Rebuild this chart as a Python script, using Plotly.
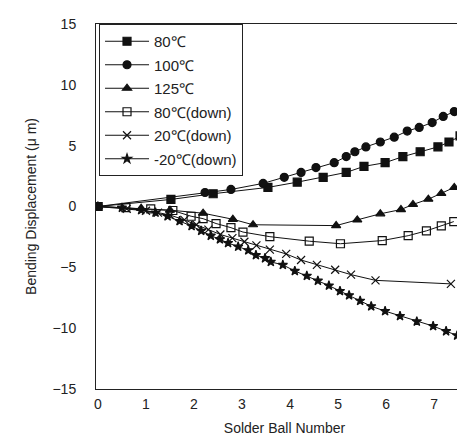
import plotly.graph_objects as go

# ---- data ----
names = ["80℃", "100℃", "125℃", "80℃(down)", "20℃(down)", "-20℃(down)"]

x_80 = [0, 1.52, 2.4, 3.54, 4.15, 4.69, 5.17, 5.54, 5.98, 6.35, 6.71, 7.08, 7.31, 7.54, 7.75]
y_80 = [0, 0.58, 1.05, 1.57, 2.0, 2.4, 2.8, 3.3, 3.6, 4.1, 4.5, 4.9, 5.3, 5.8, 6.2]

x_100 = [0, 2.23, 2.77, 3.44, 3.88, 4.23, 4.54, 4.92, 5.17, 5.35, 5.58, 5.88, 6.17, 6.44, 6.69, 6.96, 7.19, 7.42]
y_100 = [0, 1.15, 1.4, 1.9, 2.4, 2.8, 3.2, 3.6, 4.1, 4.5, 4.9, 5.3, 5.7, 6.2, 6.5, 6.9, 7.4, 7.8]

x_125 = [0, 0.9, 1.5, 2.19, 2.81, 3.23, 4.96, 5.4, 5.88, 6.31, 6.56, 6.88, 7.15, 7.42]
y_125 = [0, -0.15, -0.3, -0.55, -1.05, -1.5, -1.57, -1.1, -0.6, -0.25, 0.17, 0.6, 1.07, 1.57]

x_80d = [0, 0.58, 1.1, 1.56, 1.94, 2.19, 2.46, 2.77, 3.02, 3.58, 4.4, 5.05, 5.92, 6.46, 6.84, 7.15, 7.41]
y_80d = [0, -0.1, -0.2, -0.33, -0.8, -1.0, -1.4, -1.74, -2.1, -2.48, -2.85, -3.06, -2.8, -2.4, -2.0, -1.6, -1.24]

x_20d = [0, 0.6, 1.0, 1.25, 1.5, 1.8, 2.05, 2.3, 2.55, 2.8, 3.05, 3.3, 3.58, 3.92, 4.23, 4.56, 4.94, 5.27, 5.78, 7.35]
y_20d = [0, -0.2, -0.35, -0.5, -0.7, -1.1, -1.5, -1.9, -2.3, -2.6, -2.9, -3.2, -3.55, -3.9, -4.4, -4.8, -5.2, -5.6, -6.07, -6.36]

x_m20d = [0, 0.5, 0.9, 1.2, 1.45, 1.7, 1.95, 2.15, 2.35, 2.54, 2.71, 2.92, 3.13, 3.29, 3.48, 3.6, 3.85, 4.1, 4.35,
          4.58, 4.81, 5.04, 5.23, 5.46, 5.69, 5.98, 6.29, 6.64, 6.98, 7.25, 7.48]
y_m20d = [0, -0.1, -0.3, -0.5, -0.8, -1.2, -1.6, -2.0, -2.4, -2.7, -3.0, -3.3, -3.6, -4.0, -4.25, -4.55, -4.8, -5.3, -5.7,
          -6.1, -6.5, -6.95, -7.3, -7.75, -8.2, -8.6, -9.0, -9.45, -9.83, -10.25, -10.6]

x_ticks = [0, 1, 2, 3, 4, 5, 6, 7]
y_ticks = [-15, -10, -5, 0, 5, 10, 15]

series = [
    (x_80, y_80, "square", 8),
    (x_100, y_100, "circle", 8),
    (x_125, y_125, "triangle-up", 8),
    (x_80d, y_80d, "square-open", 8),
    (x_20d, y_20d, "x-thin-open", 8),
    (x_m20d, y_m20d, "star", 7),
]

fig = go.Figure()
for i, (name, (xs, ys, sym, sz)) in enumerate(zip(names, series)):
    fig.add_trace(go.Scatter(
        x=xs, y=ys, mode="lines+markers", name=name, legendgroup=str(i),
        line=dict(color="#111", width=1),
        marker=dict(symbol=sym, size=sz, color="#111",
                    line=dict(color="#111", width=1.2)),
    ))

font_family = "Liberation Sans, Arial, sans-serif"
fig.update_layout(
    width=465, height=443,
    margin=dict(l=88, r=0, t=16, b=62),
    paper_bgcolor="white", plot_bgcolor="white",
    font=dict(family=font_family, size=14, color="#222"),
    showlegend=True,
    legend=dict(
        x=0.008, y=1.0, xanchor="left", yanchor="top",
        bordercolor="#222", borderwidth=1, bgcolor="white",
        font=dict(size=15, family=font_family, color="#222"),
        tracegroupgap=1, itemwidth=44,
    ),
    xaxis=dict(
        range=[-0.04, 7.81], tickvals=x_ticks, showgrid=False, zeroline=False,
        showline=True, linecolor="#222", linewidth=1, mirror=True,
        ticks="", ticklabelstandoff=2,
        title=dict(text="Solder Ball Number", standoff=12, font=dict(size=14)),
    ),
    yaxis=dict(
        range=[-15, 15], tickvals=y_ticks, showgrid=False, zeroline=False,
        showline=True, linecolor="#222", linewidth=1, mirror=True,
        ticks="", ticklabelstandoff=16,
        title=dict(text="Bending Displacement (μ m)", standoff=12, font=dict(size=14)),
    ),
)

fig.write_html("out.html")
